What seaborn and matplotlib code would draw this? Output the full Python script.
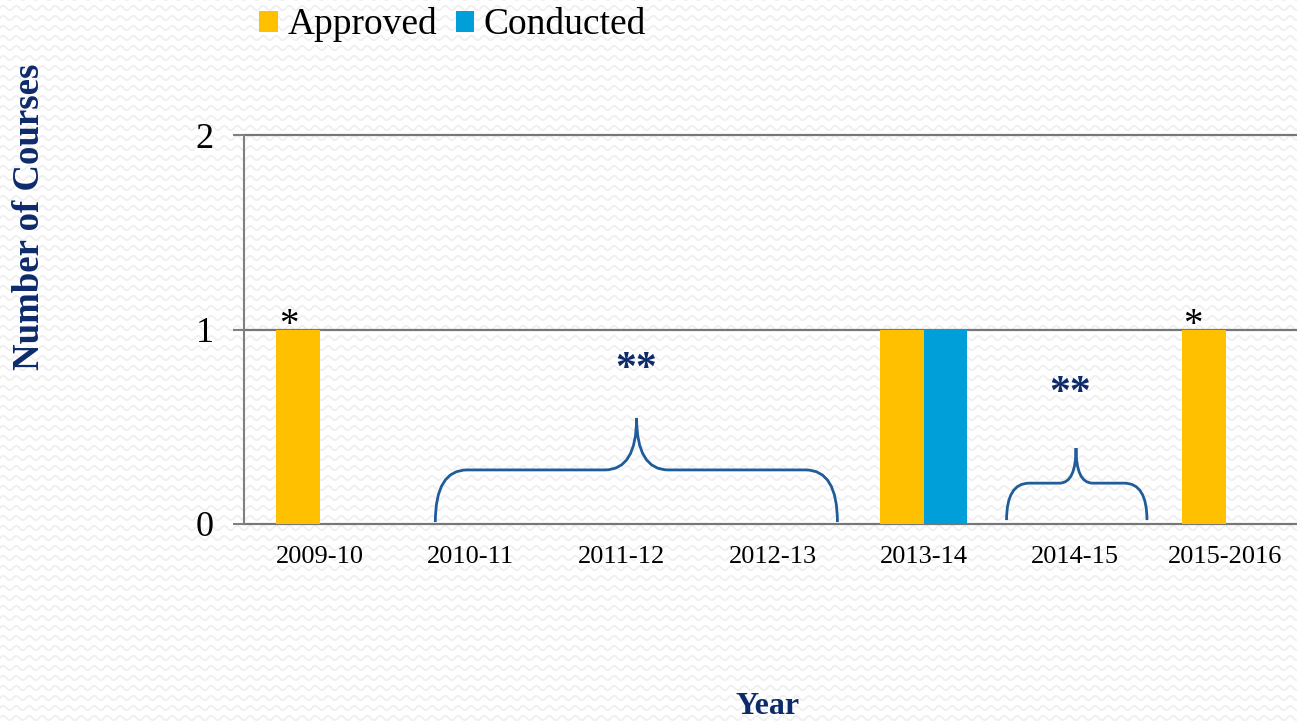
import numpy as np
import pandas as pd
import matplotlib
matplotlib.use("Agg")
import matplotlib.pyplot as plt
from matplotlib.path import Path
from matplotlib.patches import PathPatch, Patch
from matplotlib.lines import Line2D
from matplotlib.transforms import IdentityTransform
import seaborn as sns

# ---- data ----
years = ["2009-10", "2010-11", "2011-12", "2012-13", "2013-14", "2014-15", "2015-2016"]
approved = [1, 0, 0, 0, 1, 0, 1]
conducted = [0, 0, 0, 0, 1, 0, 0]
series_names = ["Approved", "Conducted"]
series_colors = ["#FFC000", "#009FDA"]
y_ticks = [0, 1, 2]

sns.set_theme(style="white")
plt.rcParams["font.family"] = ["Liberation Serif", "DejaVu Serif"]
plt.rcParams["text.color"] = "black"

df = pd.DataFrame({
    "Year": years * 2,
    "Series": [series_names[0]] * len(years) + [series_names[1]] * len(years),
    "Count": approved + conducted,
})

BG = "#ffffff"
NAVY = "#0D2B6B"
BRACE = "#1F5C99"

fig = plt.figure(figsize=(12.97, 7.21), dpi=100, facecolor=BG)

# subtle wavy background texture
xs = np.arange(0, 1300, 1.0)
for yrow in np.arange(3, 725, 10):
    fig.add_artist(Line2D(xs, yrow + 2.2 * np.sin(2 * np.pi * xs / 13.0),
                          transform=IdentityTransform(), color="#efefef",
                          lw=1.3, zorder=-10))

ax = fig.add_axes([244 / 1297, 197 / 721, 1057 / 1297, 389 / 721])
ax.set_facecolor("none")

sns.barplot(data=df, x="Year", y="Count", hue="Series", order=years,
            hue_order=series_names, palette=series_colors, width=0.57,
            saturation=1, linewidth=0, ax=ax, legend=False)

ax.set_xlim(-0.5, len(years) - 0.5)
ax.set_ylim(0, 2)
ax.set_yticks(y_ticks)
ax.set_yticklabels([str(t) for t in y_ticks], fontsize=26, color="black")
ax.tick_params(axis="y", length=8, width=1.5, color="#808080", pad=14, left=True)
ax.tick_params(axis="x", length=0, pad=16, labelsize=19)
for lbl in ax.get_xticklabels():
    lbl.set_color("black")
for y in y_ticks:
    ax.axhline(y, color="#777777", lw=1.6, zorder=0.5, clip_on=False)
for s in ["top", "right", "bottom"]:
    ax.spines[s].set_visible(False)
ax.spines["left"].set_color("#808080")
ax.spines["left"].set_linewidth(1.5)

ax.set_xlabel("")
ax.set_ylabel("")
fig.text(30 / 1297, 1 - 217 / 721, "Number of Courses", rotation=90,
         ha="center", va="center", fontsize=26.5, fontweight="bold", color=NAVY)
fig.text(768 / 1297, 1 - 707 / 721, "Year", ha="center", va="center",
         fontsize=23, fontweight="bold", color=NAVY)

# annotations
ax.text(-0.2, 0.925, "*", ha="center", va="bottom", fontsize=28, color="black")
ax.text(5.785, 0.925, "*", ha="center", va="bottom", fontsize=28, color="black")
ax.text(2.10, 0.79, "**", ha="center", va="center", fontsize=30,
        fontweight="bold", color=NAVY)
ax.text(4.97, 0.67, "**", ha="center", va="center", fontsize=30,
        fontweight="bold", color=NAVY)


def brace(x0, x1, xm, y0, yh, yt, rc, rm):
    verts = [
        (x0, y0), (x0, yh), (x0 + rc, yh),
        (xm - rm, yh), (xm, yh), (xm, yt),
        (xm, yh), (xm + rm, yh),
        (x1 - rc, yh), (x1, yh), (x1, y0),
    ]
    codes = [Path.MOVETO, Path.CURVE3, Path.CURVE3,
             Path.LINETO, Path.CURVE3, Path.CURVE3,
             Path.CURVE3, Path.CURVE3,
             Path.LINETO, Path.CURVE3, Path.CURVE3]
    ax.add_patch(PathPatch(Path(verts, codes), facecolor="none",
                           edgecolor=BRACE, lw=2.0, zorder=3))


brace(0.767, 3.43, 2.10, 0.01, 0.278, 0.545, 0.21, 0.21)
brace(4.55, 5.48, 5.01, 0.02, 0.21, 0.39, 0.15, 0.11)

handles = [Patch(facecolor=c, edgecolor="none") for c in series_colors]
leg = fig.legend(handles, series_names, loc="center left",
                 bbox_to_anchor=(259 / 1297, 1 - 25 / 721), frameon=False,
                 ncol=2, fontsize=27, handlelength=0.5, handleheight=0.5,
                 handletextpad=0.25, columnspacing=0.5, borderpad=0,
                 borderaxespad=0)
for t in leg.get_texts():
    t.set_color("black")

fig.savefig("out.png", dpi=100, facecolor=BG)
